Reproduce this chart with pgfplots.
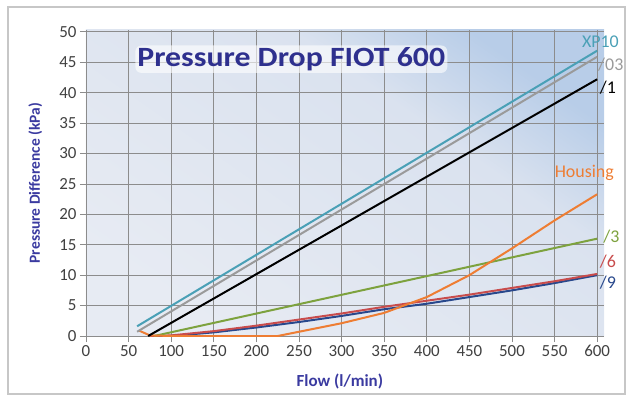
\documentclass[border=0pt]{standalone}
\usepackage{pgfplots}
\pgfplotsset{compat=1.18}
\usepackage{fontspec}
\setmainfont{Carlito}
\newfontfamily\titlefont[FakeStretch=1.14]{Carlito}
\usetikzlibrary{calc}

\definecolor{cteal}{RGB}{74,160,182}
\definecolor{cgray}{RGB}{154,154,154}
\definecolor{corange}{RGB}{238,125,51}
\definecolor{cgreen}{RGB}{125,162,62}
\definecolor{cred}{RGB}{200,76,76}
\definecolor{cblue}{RGB}{40,72,140}
\definecolor{ctitle}{RGB}{46,48,142}
\definecolor{clabel}{RGB}{58,58,160}
\definecolor{bglight}{RGB}{231,235,243}
\definecolor{bgmid}{RGB}{218,226,239}
\definecolor{bgdark}{RGB}{184,205,232}
\definecolor{cgrid}{RGB}{140,140,140}
\pgfdeclareverticalshading{bgshade}{100bp}{color(0bp)=(bglight); color(25bp)=(bglight); color(62bp)=(bgmid); color(75bp)=(bgdark); color(100bp)=(bgdark)}

\begin{document}
\begin{tikzpicture}
\begin{axis}[
    name=ax,
    scale only axis,
    width=518bp, height=306bp,
    xmin=0, xmax=608, ymin=0, ymax=50.3,
    xtick={0,50,...,600}, ytick={0,5,...,50},
    axis x line*=bottom, axis y line*=left,
    axis line style={cgrid, line width=0.8pt, -},
    grid=major,
    major grid style={cgrid, line width=0.8pt},
    tick align=outside,
    major tick length=6bp,
    tick style={cgrid, line width=0.8pt},
    ticklabel style={font=\fontsize{17}{17}\selectfont, text=black!75},
    /pgf/number format/assume math mode=true,
    axis background/.style={shading=bgshade, shading angle=-35},
    xlabel={Flow (l/min)},
    ylabel={Pressure Difference (kPa)},
    xlabel style={font=\fontsize{17}{17}\selectfont\bfseries, text=clabel,
        at={(axis description cs:0.49,-0.15)}, anchor=center},
    ylabel style={font=\fontsize{15.5}{15.5}\selectfont\bfseries, text=clabel,
        at={(axis description cs:-0.098,0.5)}, anchor=center, rotate=0},
    clip=false,
    every axis plot/.append style={line width=2pt},
]
\addplot[cblue] coordinates {(75,0) (100,0) (150,0.6) (200,1.4) (250,2.3) (300,3.3) (350,4.4) (400,5.3) (450,6.4) (500,7.5) (550,8.7) (600,10.0)};
\addplot[cred] coordinates {(75,0) (100,0.1) (150,0.8) (200,1.7) (250,2.7) (300,3.7) (350,4.8) (400,5.8) (450,6.8) (500,7.9) (550,9.0) (600,10.2)};
\addplot[cgreen] coordinates {(80,0) (600,16)};
\addplot[corange] coordinates {(62,0.9) (75,0.1) (100,0) (225,0) (250,0.7) (300,2.1) (350,3.8) (400,6.4) (450,10.0) (500,14.4) (550,19.0) (600,23.3)};
\addplot[black] coordinates {(73,0) (600,42.2)};
\addplot[cgray] coordinates {(60,0.7) (600,45.9)};
\addplot[cteal] coordinates {(60,1.6) (600,46.9)};

\node[fill=white, fill opacity=0.6, text opacity=1, rounded corners=6pt, inner sep=2pt,
      text=ctitle, font=\titlefont\fontsize{28}{28}\selectfont\bfseries] at (axis cs:241,45.5) {Pressure Drop FIOT 600};

\begin{scope}[font=\fontsize{18}{18}\selectfont, inner sep=0pt]
\node[text=cteal, anchor=west] at (axis cs:582,48.4) {XP10};
\node[text=cgray, anchor=west] at (axis cs:601,44.6) {/03};
\node[text=black, anchor=west] at (axis cs:603,40.8) {/1};
\node[text=corange, anchor=west] at (axis cs:550,26.8) {Housing};
\node[text=cgreen, anchor=west] at (axis cs:607,16.4) {/3};
\node[text=cred, anchor=west] at (axis cs:603,12.2) {/6};
\node[text=cblue, anchor=west] at (axis cs:603,8.7) {/9};
\end{scope}
\end{axis}
\pgfresetboundingbox
\coordinate (o) at ($(ax.south west)+(-86bp,-60bp)$);
\path[use as bounding box] (o) rectangle ++(626bp,396bp);
\draw[black!22, line width=1.2pt] ($(o)+(8bp,2bp)$) rectangle ($(o)+(625bp,389bp)$);
\end{tikzpicture}
\end{document}
